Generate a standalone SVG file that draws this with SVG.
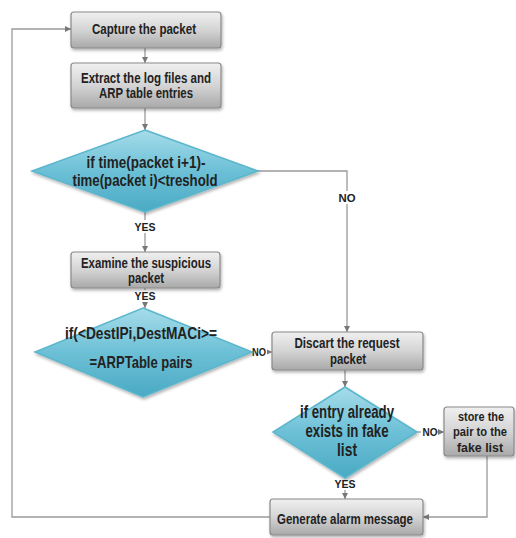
<svg xmlns="http://www.w3.org/2000/svg" width="516" height="538" viewBox="0 0 516 538">
<defs>
<linearGradient id="gbox" x1="0" y1="0" x2="0" y2="1">
<stop offset="0" stop-color="#f0f0f0"/>
<stop offset="0.5" stop-color="#d4d4d4"/>
<stop offset="1" stop-color="#a9a9a9"/>
</linearGradient>
<linearGradient id="gdia" x1="0" y1="0" x2="0" y2="1">
<stop offset="0" stop-color="#a6dcea"/>
<stop offset="0.5" stop-color="#6cc0d6"/>
<stop offset="1" stop-color="#4aaac4"/>
</linearGradient>
<filter id="sh" x="-10%" y="-10%" width="130%" height="140%">
<feDropShadow dx="1" dy="2" stdDeviation="1.5" flood-color="#000" flood-opacity="0.3"/>
</filter>
<marker id="ar" viewBox="0 0 6 6" refX="6" refY="3" markerWidth="6" markerHeight="6" orient="auto" markerUnits="userSpaceOnUse">
<path d="M0,0 L6,3 L0,6 z" fill="#777"/>
</marker>
</defs>
<style>
.box{fill:url(#gbox);stroke:#8a8a8a;stroke-width:1.2;filter:url(#sh)}
.dia{fill:url(#gdia);stroke:#5bb6cc;stroke-width:1.5;filter:url(#sh)}
.t{font-family:"Liberation Sans",Arial,sans-serif;font-weight:bold;fill:#222;text-anchor:middle}
.bt{font-size:14px}
.st{font-size:13px}
.dt{font-size:17px}
.d3{font-size:18px}
.lb{font-size:11px;font-family:"Liberation Sans",Arial,sans-serif;font-weight:bold;fill:#222;text-anchor:middle}
.c{fill:none;stroke:#9a9a9a;stroke-width:1.3}
</style>
<g id="connectors">
<path class="c" d="M145,48 V63" marker-end="url(#ar)"/>
<path class="c" d="M145,108 V130" marker-end="url(#ar)"/>
<path class="c" d="M145,212 V252" marker-end="url(#ar)"/>
<path class="c" d="M145,288 V308" marker-end="url(#ar)"/>
<path class="c" d="M258,171 H347 V332" marker-end="url(#ar)"/>
<path class="c" d="M252,352 H272" marker-end="url(#ar)"/>
<path class="c" d="M345,370 V387" marker-end="url(#ar)"/>
<path class="c" d="M417,432 H444" marker-end="url(#ar)"/>
<path class="c" d="M345,478 V499" marker-end="url(#ar)"/>
<path class="c" d="M487,456 V517 H423" marker-end="url(#ar)"/>
<path class="c" d="M270,517 H12 V29 H71" marker-end="url(#ar)"/>
<rect x="134" y="220" width="22" height="13" fill="#fff"/>
<text class="lb" x="145" y="231" textLength="21" lengthAdjust="spacingAndGlyphs">YES</text>
<rect x="134" y="290" width="22" height="12" fill="#fff"/>
<text class="lb" x="145" y="300" textLength="21" lengthAdjust="spacingAndGlyphs">YES</text>
<rect x="337" y="191" width="20" height="13" fill="#fff"/>
<text class="lb" x="347" y="202" textLength="17" lengthAdjust="spacingAndGlyphs">NO</text>
<rect x="253" y="346" width="14" height="12" fill="#fff"/>
<text class="lb" x="259" y="356" textLength="14" lengthAdjust="spacingAndGlyphs">NO</text>
<rect x="421" y="426" width="16" height="12" fill="#fff"/>
<text class="lb" x="430" y="436" textLength="15" lengthAdjust="spacingAndGlyphs">NO</text>
<rect x="334" y="478" width="22" height="12" fill="#fff"/>
<text class="lb" x="345" y="488" textLength="21" lengthAdjust="spacingAndGlyphs">YES</text>
</g>
<g id="capture">
<rect class="box" x="71" y="12" width="150" height="36" rx="3"/>
<text class="t bt" x="144" y="34" textLength="104" lengthAdjust="spacingAndGlyphs">Capture the packet</text>
</g>
<g id="extract">
<rect class="box" x="71" y="63" width="150" height="45" rx="3"/>
<text class="t bt" x="146" y="83" textLength="130" lengthAdjust="spacingAndGlyphs">Extract the log files and</text>
<text class="t bt" x="146" y="98" textLength="94" lengthAdjust="spacingAndGlyphs">ARP table entries</text>
</g>
<g id="cond1">
<polygon class="dia" points="145,130 258,171 145,212 32,171"/>
<text class="t dt" x="146" y="168" textLength="119" lengthAdjust="spacingAndGlyphs">if time(packet i+1)-</text>
<text class="t dt" x="145" y="186" textLength="145" lengthAdjust="spacingAndGlyphs">time(packet i)&lt;treshold</text>
</g>
<g id="examine">
<rect class="box" x="71" y="252" width="149" height="36" rx="3"/>
<text class="t bt" x="146" y="268" textLength="130" lengthAdjust="spacingAndGlyphs">Examine the suspicious</text>
<text class="t bt" x="146" y="283" textLength="36" lengthAdjust="spacingAndGlyphs">packet</text>
</g>
<g id="cond2">
<polygon class="dia" points="143,308 252,352 143,397 35,352"/>
<text class="t dt" x="141" y="339" textLength="152" lengthAdjust="spacingAndGlyphs">if(&lt;DestIPi,DestMACi&gt;=</text>
<text class="t dt" x="141" y="368" textLength="103" lengthAdjust="spacingAndGlyphs">=ARPTable pairs</text>
</g>
<g id="discard">
<rect class="box" x="272" y="332" width="151" height="38" rx="3"/>
<text class="t bt" x="347" y="348" textLength="105" lengthAdjust="spacingAndGlyphs">Discart the request</text>
<text class="t bt" x="348" y="364" textLength="36" lengthAdjust="spacingAndGlyphs">packet</text>
</g>
<g id="cond3">
<polygon class="dia" points="345,387 417,432 345,478 273,432"/>
<text class="t d3" x="347" y="418" textLength="94" lengthAdjust="spacingAndGlyphs">if entry already</text>
<text class="t d3" x="347" y="437" textLength="83" lengthAdjust="spacingAndGlyphs">exists in fake</text>
<text class="t d3" x="347" y="456" textLength="20" lengthAdjust="spacingAndGlyphs">list</text>
</g>
<g id="store">
<rect class="box" x="444" y="407" width="70" height="49" rx="3"/>
<text class="t st" x="481" y="421" textLength="46" lengthAdjust="spacingAndGlyphs">store the</text>
<text class="t st" x="480" y="436" textLength="54" lengthAdjust="spacingAndGlyphs">pair to the</text>
<text class="t st" x="480" y="452" textLength="46" lengthAdjust="spacingAndGlyphs">fake list</text>
</g>
<g id="generate">
<rect class="box" x="270" y="499" width="153" height="36" rx="3"/>
<text class="t bt" x="345" y="524" textLength="136" lengthAdjust="spacingAndGlyphs">Generate alarm message</text>
</g>
</svg>
